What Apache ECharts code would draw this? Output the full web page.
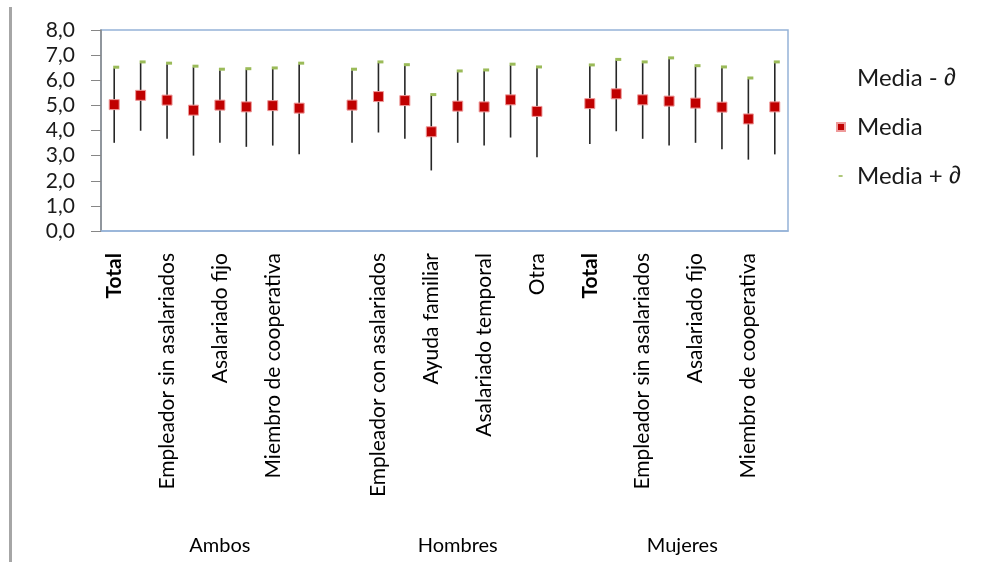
<!DOCTYPE html>
<html>
<head>
<meta charset="utf-8">
<script src="https://cdn.jsdelivr.net/npm/echarts@6/dist/echarts.min.js"></script>
<style>
html,body{margin:0;padding:0;background:#fff;}
#chart{width:988px;height:562px;}
</style>
</head>
<body>
<div id="chart"></div>
<script>
// ---- data ----
const subCategories = ['Total','Empleador con asalariados','Empleador sin asalariados','Ayuda familiar','Asalariado fijo','Asalariado temporal','Miembro de cooperativa','Otra'];
const groups = ['Ambos','Hombres','Mujeres'];
// category slots per group (including the blank spacer slot)
const groupSizes = [9, 9, 8];
const categories = [
  'Total','Empleador con asalariados','Empleador sin asalariados','Ayuda familiar','Asalariado fijo','Asalariado temporal','Miembro de cooperativa','Otra','',
  'Total','Empleador con asalariados','Empleador sin asalariados','Ayuda familiar','Asalariado fijo','Asalariado temporal','Miembro de cooperativa','Otra','',
  'Total','Empleador con asalariados','Empleador sin asalariados','Ayuda familiar','Asalariado fijo','Asalariado temporal','Miembro de cooperativa','Otra'
];
const mediaMenos = [3.51,3.99,3.67,3.00,3.51,3.35,3.40,3.05,null, 3.51,3.92,3.67,2.41,3.51,3.40,3.72,2.94,null, 3.46,3.97,3.67,3.40,3.51,3.25,2.84,3.05];
const media      = [5.03,5.40,5.21,4.81,5.01,4.94,4.99,4.89,null, 5.01,5.35,5.19,3.95,4.97,4.94,5.22,4.76,null, 5.07,5.46,5.22,5.17,5.09,4.93,4.46,4.94];
const mediaMas   = [6.52,6.73,6.68,6.56,6.44,6.46,6.49,6.68,null, 6.44,6.73,6.62,5.43,6.37,6.41,6.64,6.53,null, 6.61,6.83,6.73,6.89,6.58,6.53,6.09,6.73];
const yTicks = [0,1,2,3,4,5,6,7,8];

// ---- build ----
const groupCenters = [];
let acc = 0;
groupSizes.forEach(s => { groupCenters.push(acc + s / 2); acc += s; });

const FONT = 'Lato';
const rangeData = categories.map((c, i) => mediaMenos[i] == null ? [i, null, null] : [i, mediaMenos[i], mediaMas[i]]);

const chart = echarts.init(document.getElementById('chart'), null, {renderer: 'canvas'});
chart.setOption({
  animation: false,
  backgroundColor: '#ffffff',
  textStyle: {fontFamily: FONT},
  graphic: [{
    type: 'rect', left: 9, top: 7, shape: {width: 3, height: 555}, style: {fill: '#a6a6a6'}, silent: true
  }],
  grid: {left: 101, right: 200, top: 30, bottom: 331, show: true, borderColor: '#95b3d7', borderWidth: 1.5, backgroundColor: 'transparent'},
  legend: {
    orient: 'vertical', left: 831, top: 61, itemGap: 25, itemWidth: 8, itemHeight: 8,
    textStyle: {fontFamily: FONT, fontSize: 24, color: '#1a1a1a', padding: [0, 0, 0, 7],
      rich: {d: {fontFamily: 'Liberation Sans', fontSize: 24, color: '#1a1a1a'}}},
    formatter: n => n.replace('∂', '{d|∂}'),
    data: [
      {name: 'Media - ∂', icon: 'rect', itemStyle: {opacity: 0}},
      {name: 'Media', icon: 'rect'},
      {name: 'Media + ∂', icon: 'path://M0,0M10,10M2,4L7,4L7,6L2,6Z'}
    ]
  },
  xAxis: [{
    type: 'category', data: categories, boundaryGap: true,
    axisLine: {show: true, lineStyle: {color: '#95b3d7', width: 1.5}},
    axisTick: {show: false},
    axisLabel: {
      interval: 1, rotate: 90, margin: 22, color: '#000', fontFamily: FONT, fontSize: 21,
      formatter: v => v === 'Total' ? '{b|Total}' : v,
      rich: {b: {fontWeight: 'bold', fontFamily: FONT, fontSize: 21, color: '#000'}}
    },
    splitLine: {show: false}
  }, {
    type: 'value', position: 'bottom', min: 0, max: acc, offset: 300,
    axisLine: {show: false}, axisTick: {show: false}, splitLine: {show: false},
    axisLabel: {
      customValues: groupCenters, margin: 5, color: '#000', fontFamily: FONT, fontSize: 20,
      formatter: v => { const k = groupCenters.indexOf(v); return k >= 0 ? groups[k] : ''; }
    }
  }],
  yAxis: {
    type: 'value', min: 0, max: 8, interval: 1,
    axisLine: {show: true, lineStyle: {color: '#868686', width: 1.5}},
    axisTick: {show: true, length: 10, lineStyle: {color: '#868686'}},
    axisLabel: {margin: 26, color: '#1a1a1a', fontFamily: FONT, fontSize: 21,
      customValues: yTicks,
      formatter: v => v.toFixed(1).replace('.', ',')},
    splitLine: {show: false}
  },
  series: [{
    name: 'Media - ∂', type: 'custom', xAxisIndex: 0, data: rangeData,
    encode: {x: 0, y: [1, 2]},
    itemStyle: {color: '#262626'},
    renderItem: (params, api) => {
      const lo = api.value(1), hi = api.value(2);
      if (lo == null || hi == null || isNaN(lo)) return null;
      const p1 = api.coord([api.value(0), lo]);
      const p2 = api.coord([api.value(0), hi]);
      return {type: 'line', shape: {x1: p1[0], y1: p1[1], x2: p2[0], y2: p2[1] + 1}, style: {stroke: '#262626', lineWidth: 1.6}};
    },
    z: 2
  }, {
    name: 'Media', type: 'scatter', xAxisIndex: 0, data: media,
    symbol: 'rect', symbolSize: 10,
    itemStyle: {color: '#c00000', borderColor: '#ee9a9a', borderWidth: 1, opacity: 1},
    z: 4
  }, {
    name: 'Media + ∂', type: 'scatter', xAxisIndex: 0, data: mediaMas,
    symbol: 'rect', symbolSize: [6, 3], symbolOffset: [2, 0],
    itemStyle: {color: '#9bbb59', opacity: 1},
    z: 3
  }]
});
</script>
</body>
</html>
